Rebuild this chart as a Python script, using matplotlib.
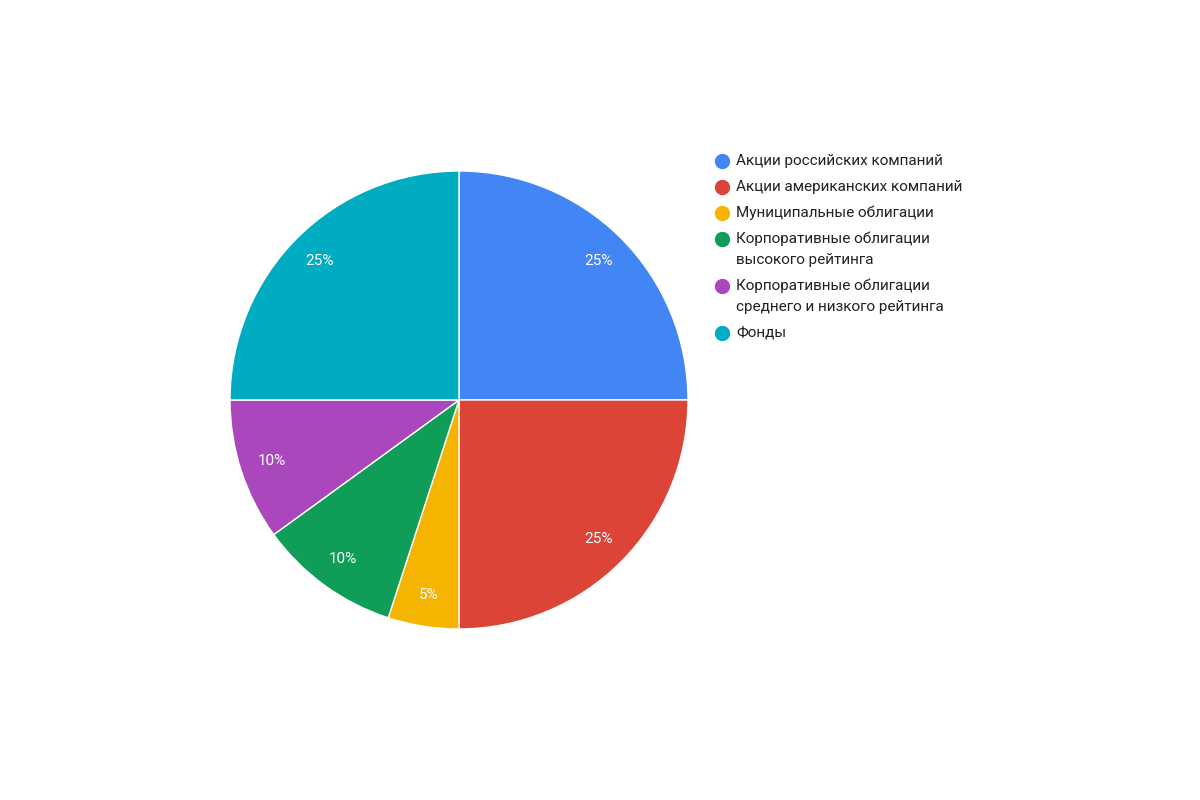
import matplotlib
matplotlib.use('Agg')
from matplotlib import pyplot as plt

plt.rcParams['font.family'] = ['Roboto', 'DejaVu Sans']

labels = ['Акции российских компаний',
          'Акции американских компаний',
          'Муниципальные облигации',
          'Корпоративные облигации\nвысокого рейтинга',
          'Корпоративные облигации\nсреднего и низкого рейтинга',
          'Фонды']
shares = [25, 25, 5, 10, 10, 25]
colors = ['#4285F4', '#DB4437', '#F4B400', '#0F9D58', '#AB47BC', '#00ACC1']

W, H = 1200, 800
fig = plt.figure(figsize=(12, 8), dpi=100)

# круг: центр (459, 400), радиус 229 px
cx, cy, r = 459, 400, 229
ax = fig.add_axes([(cx - r) / W, (H - cy - r) / H, 2 * r / W, 2 * r / H])
wedges, texts, autotexts = ax.pie(
    shares,
    colors=colors,
    startangle=90,
    counterclock=False,
    autopct='%d%%',
    pctdistance=0.86,
    wedgeprops=dict(edgecolor='white', linewidth=1),
    textprops=dict(color='white', fontsize=11),
)
ax.set_xlim(-1, 1)
ax.set_ylim(-1, 1)
ax.set_aspect('auto')
ax.axis('off')

# легенда вручную: маркер на уровне первой строки
y = 161
for lab, col in zip(labels, colors):
    fig.add_artist(plt.Line2D([722 / W], [1 - y / H], marker='o', markersize=10,
                              color=col, transform=fig.transFigure))
    lines = lab.split('\n')
    for i, line in enumerate(lines):
        fig.text(736 / W, 1 - (y + i * 21) / H, line, fontsize=11,
                 color='#222222', va='center', ha='left')
    y += 26 + (len(lines) - 1) * 21

plt.savefig('out.png')
